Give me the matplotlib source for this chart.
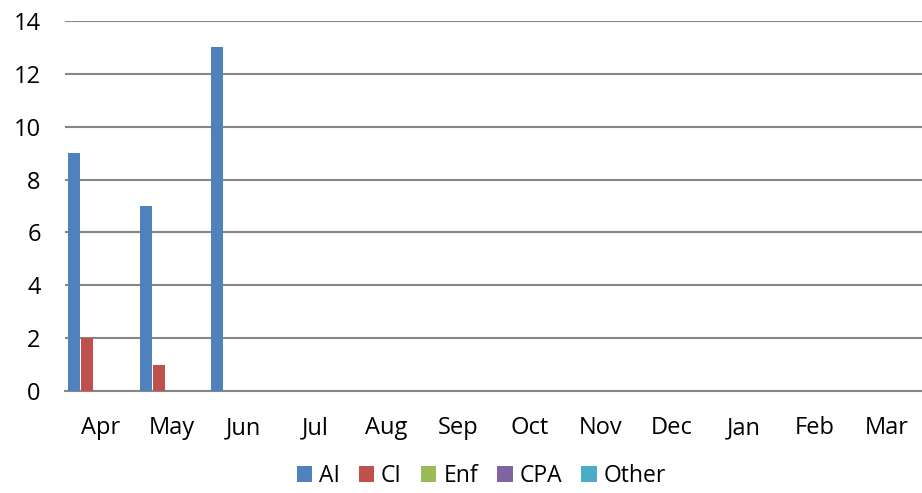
import matplotlib
matplotlib.use("Agg")
import matplotlib.pyplot as plt
import numpy as np
from matplotlib.patches import Patch

months = ["Apr", "May", "Jun", "Jul", "Aug", "Sep", "Oct", "Nov", "Dec", "Jan", "Feb", "Mar"]
series_names = ["AI", "CI", "Enf", "CPA", "Other"]
ai = [9, 7, 13, 0, 0, 0, 0, 0, 0, 0, 0, 0]
ci = [2, 1, 0, 0, 0, 0, 0, 0, 0, 0, 0, 0]
enf = [0] * 12
cpa = [0] * 12
other = [0] * 12
values = [ai, ci, enf, cpa, other]
colors = ["#4F81BD", "#C0504D", "#9BBB59", "#8064A2", "#4BACC6"]

plt.rcParams['font.family'] = ['Open Sans', 'DejaVu Sans']

fig = plt.figure(figsize=(9.22, 4.93), dpi=100)
ax = fig.add_axes([0.0705, 0.207, 0.9295, 0.7505])

x = np.arange(len(months))
step = 0.186
width = 0.168
for i, (vals, c) in enumerate(zip(values, colors)):
    ax.bar(x + (i - 2) * step, vals, width=width, color=c, edgecolor="none", zorder=3)

ax.set_xlim(-0.5, len(months) - 0.5)
ax.set_ylim(0, 14)
ax.set_yticks(range(0, 15, 2))
ax.set_xticks(x)
ax.set_xticklabels(months)
ax.grid(axis="y", color="#868686", linewidth=1.5, zorder=0)
for s in ["top", "right", "left"]:
    ax.spines[s].set_visible(False)
ax.spines["bottom"].set_color("#868686")
ax.spines["bottom"].set_linewidth(1.5)
ax.tick_params(axis="both", length=0, labelsize=17, colors="black")
ax.tick_params(axis="y", pad=17.5)
ax.tick_params(axis="x", pad=18)

handles = [Patch(facecolor=c, edgecolor="none") for c in colors]
fig.legend(handles, series_names, loc="center", bbox_to_anchor=(0.522, 0.034), ncol=5,
           frameon=False, fontsize=16.5, handlelength=0.66, handleheight=0.66,
           handletextpad=0.3, columnspacing=0.85, borderpad=0.1)

fig.savefig("out.png", dpi=100)
